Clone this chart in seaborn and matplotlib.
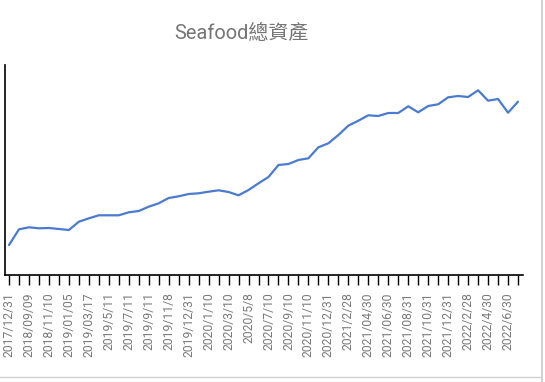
import matplotlib
matplotlib.use("Agg")
import matplotlib.pyplot as plt
from matplotlib.lines import Line2D
import seaborn as sns
import pandas as pd
import numpy as np

title = "Seafood總資產"
# tick labels shown on every other point
tick_labels = ["2017/12/31", "2018/09/09", "2018/11/10", "2019/01/05", "2019/03/17",
               "2019/5/11", "2019/7/11", "2019/9/11", "2019/11/8", "2019/12/31",
               "2020/1/10", "2020/3/10", "2020/5/8", "2020/7/10", "2020/9/10",
               "2020/11/10", "2020/12/31", "2021/2/28", "2021/04/30", "2021/06/30",
               "2021/08/31", "2021/10/31", "2021/12/31", "2022/2/28", "2022/4/30",
               "2022/6/30"]
# total assets (relative units)
values = [30, 45.7, 47.7, 46.7, 47, 46, 45, 53.3, 56.7, 59.7,
          59.7, 59.7, 62.7, 64, 68.3, 71.7, 77, 78.7, 81, 81.7,
          83.3, 84.7, 83, 79.7, 85, 91.7, 98, 110, 111, 115,
          116.7, 127.7, 131.7, 140, 149.3, 154.3, 159.7, 159, 162, 162,
          168.7, 162.7, 169, 170.7, 177.7, 179, 178, 184.7, 174.3, 176,
          162.3, 173.3]

df = pd.DataFrame({"idx": np.arange(len(values)), "value": values})

sns.set_theme(style="white")
plt.rcParams["font.family"] = ["Roboto", "Noto Sans CJK TC", "DejaVu Sans"]

fig = plt.figure(figsize=(5.45, 3.82), dpi=100)
ax = fig.add_axes([5/545, 107/382, 518/545, 210/382])
sns.lineplot(data=df, x="idx", y="value", ax=ax, color="#4a7bd0", linewidth=1.6)

ax.set_xlim(-0.4, len(values) - 0.5)
ax.set_ylim(0, 210)
ax.set_yticks([])
ax.set_xlabel("")
ax.set_ylabel("")

ticks = np.arange(len(values))
labels = []
for i in ticks:
    labels.append(tick_labels[i // 2] if i % 2 == 0 else "")
ax.set_xticks(ticks)
ax.set_xticklabels(labels, rotation=90, fontsize=8.7, color="#7a7a7a")
ax.tick_params(axis="x", length=7.5, width=1, color="black", pad=5, bottom=True)

for s in ["top", "right"]:
    ax.spines[s].set_visible(False)
for s in ["left", "bottom"]:
    ax.spines[s].set_color("black")
    ax.spines[s].set_linewidth(1.2)

fig.text(241/545, 1 - 33/382, title, ha="center", va="center",
         fontsize=14.4, color="#757575",
         family=["Roboto", "Noto Sans CJK TC", "DejaVu Sans"])

# screenshot border lines
fig.add_artist(Line2D([542/545, 542/545], [0, 1], transform=fig.transFigure,
                      color="#c8c8c8", linewidth=1.2))
fig.add_artist(Line2D([0, 542/545], [1 - 377/382, 1 - 377/382], transform=fig.transFigure,
                      color="#d0d0d0", linewidth=1.0))

fig.savefig("out.png", dpi=100)
